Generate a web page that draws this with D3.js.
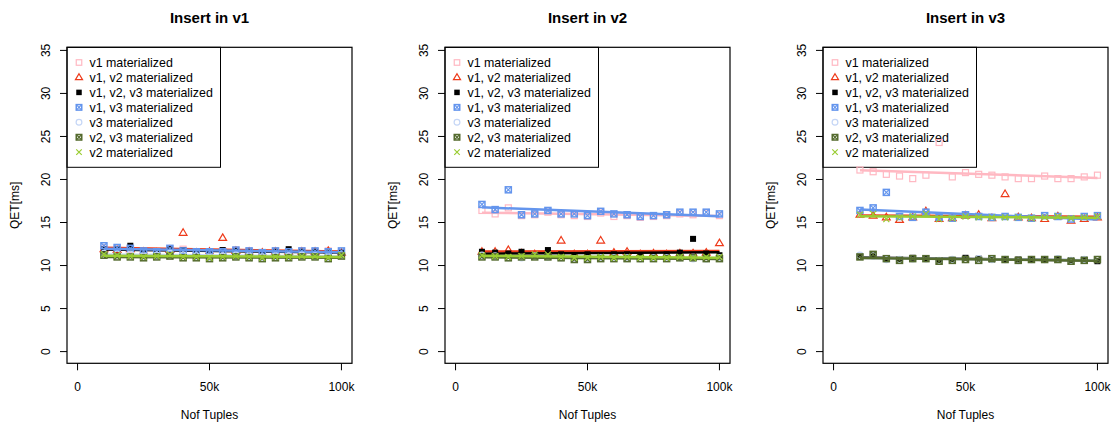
<!DOCTYPE html>
<html>
<head>
<meta charset="utf-8">
<script src="https://cdn.jsdelivr.net/npm/d3@7"></script>
<style>
  body { margin: 0; background: #fff; }
  svg text { font-family: "Liberation Sans", Arial, sans-serif; fill: #000; }
</style>
</head>
<body>
<svg id="chart" width="1116" height="424"></svg>
<script>
const tuples = [10000, 15000, 20000, 25000, 30000, 35000, 40000, 45000, 50000, 55000,
  60000, 65000, 70000, 75000, 80000, 85000, 90000, 95000, 100000];
const xTicks = [0, 50000, 100000];
const xTickLabels = ["0", "50k", "100k"];
const yTicks = [0, 5, 10, 15, 20, 25, 30, 35];
const titles = ["Insert in v1", "Insert in v2", "Insert in v3"];
const seriesNames = ["v1 materialized", "v1, v2 materialized", "v1, v2, v3 materialized",
  "v1, v3 materialized", "v3 materialized", "v2, v3 materialized", "v2 materialized"];
const seriesColors = ["#ffb8c2", "#ee3a1a", "#000000", "#6495ed", "#c5d6f6", "#556b2f", "#9acd32"];
const seriesShapes = ["square", "triangle", "filled", "squarex", "circle", "squarex", "cross"];

// QET[ms] per panel, one array per series (legend order)
const insertV1 = [
  [11.9, 11.8, 12.0, 11.7, 11.6, 11.9, 11.9, 11.6, 11.6, 11.7, 11.8, 11.7, 11.5, 11.7, 11.6, 11.7, 11.6, 11.7, 11.5],
  [11.9, 11.8, 11.9, 11.6, 11.5, 11.8, 13.8, 11.5, 11.6, 13.2, 11.7, 11.6, 11.5, 11.6, 11.6, 11.6, 11.6, 11.7, 11.5],
  [11.9, 11.9, 12.3, 11.6, 11.5, 11.9, 11.8, 11.5, 11.5, 11.8, 11.7, 11.6, 11.4, 11.6, 11.9, 11.6, 11.6, 11.5, 11.5],
  [12.3, 12.1, 12.0, 11.7, 11.6, 12.0, 11.7, 11.6, 11.6, 11.6, 11.8, 11.7, 11.5, 11.7, 11.6, 11.7, 11.7, 11.6, 11.7],
  [11.4, 11.3, 11.3, 11.1, 11.2, 11.4, 11.2, 11.1, 11.0, 11.1, 11.2, 11.1, 11.0, 11.1, 11.1, 11.2, 11.1, 11.0, 11.2],
  [11.2, 11.0, 11.0, 10.9, 11.0, 11.1, 10.9, 10.9, 10.8, 10.9, 11.0, 10.9, 10.8, 10.9, 10.9, 11.0, 11.0, 10.8, 11.1],
  [11.3, 11.2, 11.1, 11.0, 11.1, 11.3, 11.0, 11.0, 10.9, 11.0, 11.1, 11.0, 10.9, 11.0, 11.0, 11.1, 11.1, 10.9, 11.2],
];
const insertV2 = [
  [16.4, 16.0, 16.7, 15.8, 15.9, 16.2, 15.9, 15.8, 15.7, 16.1, 15.7, 15.8, 15.6, 15.7, 15.8, 16.0, 15.9, 16.1, 15.8],
  [11.6, 11.6, 11.8, 11.4, 11.3, 11.4, 12.9, 11.3, 11.3, 12.9, 11.5, 11.6, 11.3, 11.4, 11.3, 11.4, 11.4, 11.5, 12.6],
  [11.6, 11.5, 11.4, 11.6, 11.2, 11.8, 11.3, 11.2, 11.3, 11.2, 11.3, 11.3, 11.2, 11.2, 11.3, 11.5, 13.1, 11.4, 11.2],
  [17.1, 16.5, 18.8, 15.9, 16.0, 16.4, 16.0, 16.0, 15.8, 16.3, 16.0, 15.9, 15.7, 15.8, 15.9, 16.2, 16.2, 16.2, 16.0],
  [11.2, 11.1, 10.9, 10.9, 11.1, 11.0, 10.9, 10.8, 10.8, 10.9, 10.9, 10.9, 10.8, 10.9, 10.9, 10.9, 10.8, 10.8, 10.9],
  [11.0, 11.0, 10.9, 11.0, 11.0, 11.0, 10.9, 10.7, 10.7, 10.8, 10.8, 10.8, 10.8, 10.8, 10.8, 10.9, 10.9, 10.8, 10.8],
  [11.2, 11.1, 11.0, 11.1, 11.3, 11.3, 11.0, 10.9, 10.9, 11.0, 10.9, 11.0, 10.9, 10.9, 10.9, 11.0, 10.9, 11.0, 11.0],
];
const insertV3 = [
  [21.1, 20.9, 20.6, 20.4, 20.1, 20.5, 24.3, 20.3, 20.8, 20.6, 20.5, 20.3, 20.1, 20.1, 20.4, 20.1, 20.1, 20.3, 20.5],
  [15.9, 15.8, 15.6, 15.3, 15.6, 16.3, 15.4, 15.5, 15.8, 15.9, 15.5, 18.3, 15.6, 15.5, 15.4, 15.7, 15.2, 15.4, 15.6],
  [11.0, 11.2, 10.8, 10.7, 10.9, 10.8, 10.6, 10.6, 10.9, 10.8, 10.7, 10.7, 10.7, 10.7, 10.7, 10.7, 10.6, 10.7, 10.5],
  [16.4, 16.7, 18.5, 15.7, 15.6, 16.2, 15.6, 15.5, 15.9, 15.7, 15.6, 15.7, 15.6, 15.5, 15.8, 15.7, 15.4, 15.7, 15.8],
  [11.2, 11.1, 10.7, 10.7, 10.8, 10.8, 10.6, 10.7, 10.7, 10.8, 10.7, 10.7, 10.6, 10.7, 10.7, 10.8, 10.6, 10.7, 10.7],
  [11.0, 11.3, 10.8, 10.6, 10.8, 10.8, 10.5, 10.6, 10.7, 10.6, 10.8, 10.7, 10.6, 10.7, 10.7, 10.7, 10.5, 10.6, 10.7],
  [15.9, 16.0, 15.4, 15.6, 15.7, 16.0, 15.4, 15.5, 15.7, 15.6, 15.6, 15.6, 15.6, 15.5, 15.6, 15.7, 15.5, 15.6, 15.7],
];
const panels = [insertV1, insertV2, insertV3];

const svg = d3.select("#chart");
const plotW = 285;
const plotTop = 47.3;
const plotBottom = 363.3;
const panelStep = 378;
const firstLeft = 67;

// R style 4% padding on both axes
const y = d3.scaleLinear().domain([-1.36, 35.36]).range([plotBottom, plotTop]);

function drawSymbol(g, shape, color, cx, cy, s) {
  const h = s / 2;
  if (shape === "square") {
    g.append("rect").attr("x", cx - h).attr("y", cy - h).attr("width", s).attr("height", s)
      .attr("fill", "none").attr("stroke", color).attr("stroke-width", 1.2);
  } else if (shape === "filled") {
    g.append("rect").attr("x", cx - h).attr("y", cy - h).attr("width", s).attr("height", s)
      .attr("fill", color);
  } else if (shape === "squarex") {
    g.append("rect").attr("x", cx - h).attr("y", cy - h).attr("width", s).attr("height", s)
      .attr("fill", "none").attr("stroke", color).attr("stroke-width", 1.5);
    g.append("path").attr("d", `M${cx - h},${cy - h}L${cx + h},${cy + h}M${cx - h},${cy + h}L${cx + h},${cy - h}`)
      .attr("stroke", color).attr("stroke-width", 1.2);
  } else if (shape === "triangle") {
    const r = s * 0.68;
    g.append("path")
      .attr("d", `M${cx},${cy - r}L${cx + r * 0.95},${cy + r * 0.6}L${cx - r * 0.95},${cy + r * 0.6}Z`)
      .attr("fill", "none").attr("stroke", color).attr("stroke-width", 1.2);
  } else if (shape === "circle") {
    g.append("circle").attr("cx", cx).attr("cy", cy).attr("r", h * 1.05)
      .attr("fill", "none").attr("stroke", color).attr("stroke-width", 1.2);
  } else if (shape === "cross") {
    g.append("path").attr("d", `M${cx - h},${cy - h}L${cx + h},${cy + h}M${cx - h},${cy + h}L${cx + h},${cy - h}`)
      .attr("stroke", color).attr("stroke-width", 1.2);
  }
}

function fitLine(xs, ys) {
  const mx = d3.mean(xs), my = d3.mean(ys);
  let sxy = 0, sxx = 0;
  xs.forEach((xv, i) => { sxy += (xv - mx) * (ys[i] - my); sxx += (xv - mx) * (xv - mx); });
  const b = sxy / sxx;
  return (xv) => my + b * (xv - mx);
}

function drawPanel(idx) {
  const left = firstLeft + idx * panelStep;
  const x = d3.scaleLinear().domain([-4000, 104000]).range([left, left + plotW]);
  const g = svg.append("g");
  const data = panels[idx];

  g.append("text").attr("x", left + plotW / 2).attr("y", 23).attr("text-anchor", "middle")
    .style("font-size", "15px").style("font-weight", "bold").text(titles[idx]);

  // legend (no fill, points may overlap it)
  const lg = g.append("g");
  lg.append("rect").attr("x", left).attr("y", plotTop).attr("width", 153.5).attr("height", 120)
    .attr("fill", "none").attr("stroke", "#000").attr("stroke-width", 1);
  seriesNames.forEach((name, i) => {
    const cy = 62.5 + i * 14.95;
    drawSymbol(lg, seriesShapes[i], seriesColors[i], left + 12, cy, 5.5);
    lg.append("text").attr("x", left + 22.5).attr("y", cy + 4.3).style("font-size", "12.4px").text(name);
  });

  // points + fitted lines
  data.forEach((vals, i) => {
    const sg = g.append("g");
    vals.forEach((v, j) => drawSymbol(sg, seriesShapes[i], seriesColors[i], x(tuples[j]), y(v), 6));
    const f = fitLine(tuples, vals);
    const ends = [tuples[0], tuples[tuples.length - 1]];
    sg.append("path")
      .attr("d", d3.line().x((d) => x(d)).y((d) => y(f(d)))(ends))
      .attr("stroke", seriesColors[i]).attr("stroke-width", 2.5).attr("fill", "none");
  });

  // box
  g.append("rect").attr("x", left).attr("y", plotTop).attr("width", plotW)
    .attr("height", plotBottom - plotTop).attr("fill", "none").attr("stroke", "#000").attr("stroke-width", 1.2);

  // x axis
  const xa = g.append("g");
  xTicks.forEach((t, i) => {
    xa.append("line").attr("x1", x(t)).attr("x2", x(t)).attr("y1", plotBottom).attr("y2", plotBottom + 7)
      .attr("stroke", "#000");
    xa.append("text").attr("x", x(t)).attr("y", 391).attr("text-anchor", "middle")
      .style("font-size", "12px").text(xTickLabels[i]);
  });
  xa.append("text").attr("x", left + plotW / 2).attr("y", 418.5).attr("text-anchor", "middle")
    .style("font-size", "12px").text("Nof Tuples");

  // y axis
  const ya = g.append("g");
  yTicks.forEach((t) => {
    ya.append("line").attr("x1", left - 7).attr("x2", left).attr("y1", y(t)).attr("y2", y(t))
      .attr("stroke", "#000");
    ya.append("text").attr("transform", `translate(${left - 17.5},${y(t)}) rotate(-90)`)
      .attr("text-anchor", "middle").style("font-size", "12px").text(t);
  });
  ya.append("text").attr("transform", `translate(${left - 48.5},${(plotTop + plotBottom) / 2}) rotate(-90)`)
    .attr("text-anchor", "middle").style("font-size", "12px").text("QET[ms]");
}

titles.forEach((t, i) => drawPanel(i));
</script>
</body>
</html>
